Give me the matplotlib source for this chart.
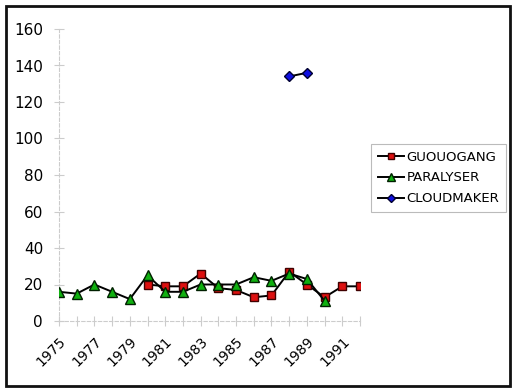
import matplotlib.pyplot as plt
from matplotlib.patches import Rectangle
import numpy as np

# categories and series values
years = np.arange(1975, 1993)
guouogang_years = np.arange(1980, 1993)
guouogang = [20, 19, 19, 26, 18, 17, 13, 14, 27, 20, 13, 19, 19]
paralyser_years = np.arange(1975, 1991)
paralyser = [16, 15, 20, 16, 12, 25, 16, 16, 20, 20, 20, 24, 22, 26, 23, 11]
cloudmaker_years = [1988, 1989]
cloudmaker = [134, 136]
tick_labels = [str(y) for y in range(1975, 1993, 2)]

fig = plt.figure(figsize=(5.17, 3.92), dpi=100)
fig.patches.append(Rectangle((6/517, 1 - 386/392), 504/517, 380/392,
                             transform=fig.transFigure, fill=False,
                             edgecolor='#111111', linewidth=2))
ax = fig.add_axes([59/517, 1 - 321/392, 301/517, 292/392])

ax.plot(guouogang_years, guouogang, color='black', lw=1.4, marker='s',
        ms=6, mfc='#dd1010', mec='#400000', mew=1, label='GUOUOGANG', zorder=3)
ax.plot(paralyser_years, paralyser, color='black', lw=1.4, marker='^',
        ms=7, mfc='#10b010', mec='#002000', mew=1, label='PARALYSER', zorder=4)
ax.plot(cloudmaker_years, cloudmaker, color='black', lw=1.4, marker='D',
        ms=5.5, mfc='#1010e0', mec='#000030', mew=1, label='CLOUDMAKER', zorder=3)

ax.set_xlim(1975, 1992)
ax.set_ylim(0, 160)
ax.set_yticks(np.arange(0, 161, 20))
ax.set_xticks(years)
ax.set_xticklabels([str(y) if str(y) in tick_labels else '' for y in years],
                   rotation=45, ha='right', rotation_mode='anchor', fontsize=10)
ax.tick_params(axis='y', labelsize=11)
ax.tick_params(direction='inout', length=7, color='#cccccc', width=0.8)
ax.tick_params(axis='y', pad=8)
ax.tick_params(axis='x', pad=6)

for side in ['top', 'right']:
    ax.spines[side].set_visible(False)
for side in ['left', 'bottom']:
    ax.spines[side].set_color('#cccccc')
    ax.spines[side].set_linestyle((0, (3, 2)))
    ax.spines[side].set_linewidth(0.8)

leg = fig.legend(loc='center left', bbox_to_anchor=(371/517, 1 - 178/392),
                 fontsize=9.5, frameon=True, fancybox=False, edgecolor='#aaaaaa',
                 handlelength=2.0, borderpad=0.5, labelspacing=0.6,
                 handletextpad=0.2, markerscale=0.75, borderaxespad=0)
leg.get_frame().set_linewidth(0.8)

fig.savefig('out.png', dpi=100)
